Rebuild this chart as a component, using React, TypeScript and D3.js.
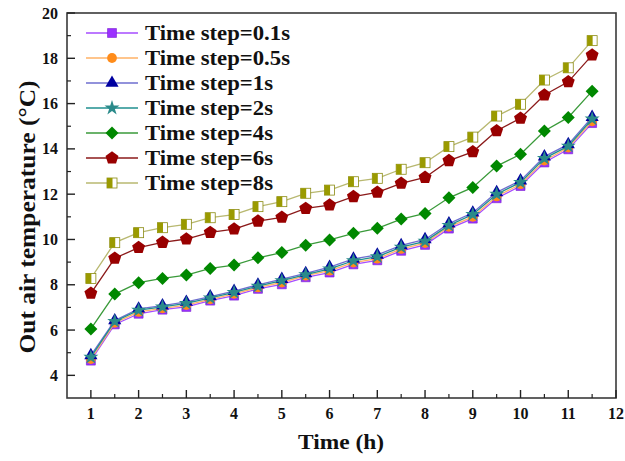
import React from "react";
import * as d3 from "d3";

const hours = [1, 1.5, 2, 2.5, 3, 3.5, 4, 4.5, 5, 5.5, 6, 6.5, 7, 7.5, 8, 8.5, 9, 9.5, 10, 10.5, 11, 11.5];
const seriesNames = ["Time step=0.1s", "Time step=0.5s", "Time step=1s", "Time step=2s", "Time step=4s", "Time step=6s", "Time step=8s"];
const step01 = [4.65, 6.25, 6.72, 6.9, 7.02, 7.3, 7.52, 7.82, 8.02, 8.33, 8.54, 8.9, 9.08, 9.5, 9.76, 10.48, 10.92, 11.82, 12.36, 13.4, 13.98, 15.14];
const step05 = [4.72, 6.32, 6.8, 6.96, 7.1, 7.36, 7.6, 7.88, 8.1, 8.4, 8.62, 8.98, 9.15, 9.58, 9.84, 10.56, 11.0, 11.9, 12.44, 13.48, 14.06, 15.22];
const step1 = [4.88, 6.42, 6.94, 7.08, 7.24, 7.48, 7.72, 8.0, 8.25, 8.5, 8.78, 9.14, 9.32, 9.74, 10.0, 10.7, 11.18, 12.08, 12.6, 13.66, 14.2, 15.4];
const step2 = [4.8, 6.38, 6.88, 7.02, 7.18, 7.42, 7.66, 7.94, 8.18, 8.45, 8.7, 9.06, 9.24, 9.66, 9.92, 10.62, 11.1, 12.0, 12.52, 13.58, 14.12, 15.32];
const step4 = [6.05, 7.59, 8.09, 8.28, 8.43, 8.72, 8.87, 9.19, 9.42, 9.75, 9.98, 10.27, 10.49, 10.9, 11.15, 11.84, 12.3, 13.24, 13.76, 14.79, 15.39, 16.55];
const step6 = [7.62, 9.17, 9.64, 9.87, 10.02, 10.31, 10.46, 10.81, 10.98, 11.37, 11.52, 11.89, 12.08, 12.48, 12.74, 13.48, 13.87, 14.8, 15.35, 16.38, 16.96, 18.14];
const step8 = [8.28, 9.86, 10.3, 10.52, 10.67, 10.96, 11.1, 11.45, 11.67, 12.04, 12.18, 12.55, 12.7, 13.1, 13.39, 14.1, 14.52, 15.45, 15.97, 17.04, 17.58, 18.78];
const xTicks = [1, 2, 3, 4, 5, 6, 7, 8, 9, 10, 11, 12];
const yTicks = [4, 6, 8, 10, 12, 14, 16, 18, 20];

const allSeries = [step01, step05, step1, step2, step4, step6, step8];
const lineColors = ["#a64dff", "#ffb266", "#6e6ecf", "#1f8f8f", "#3a9a3a", "#8b1a1a", "#b8b870"];
const markerColors = ["#9b30ff", "#ff8c1a", "#0000a0", "#2a8a8a", "#008800", "#990000", "#9a9a00"];
const shapes = ["square", "circle", "triangle", "star", "diamond", "pentagon", "halfsquare"];

const W = 625, H = 461;
const L = 67, R = 616, T = 13, B = 398;
const FONT = "'Liberation Serif', 'Times New Roman', serif";

function Marker({ shape, x, y, color }: { shape: string; x: number; y: number; color: string }) {
  if (shape === "square") {
    return <path d={d3.symbol(d3.symbolSquare, 80)()!} transform={`translate(${x},${y})`} fill={color} stroke="#7a1fd0" strokeWidth={0.6} />;
  }
  if (shape === "circle") {
    return <path d={d3.symbol(d3.symbolCircle, 75)()!} transform={`translate(${x},${y})`} fill={color} />;
  }
  if (shape === "triangle") {
    return <path d={d3.symbol(d3.symbolTriangle, 75)()!} transform={`translate(${x},${y})`} fill={color} />;
  }
  if (shape === "star") {
    return <path d={d3.symbol(d3.symbolStar, 70)()!} transform={`translate(${x},${y})`} fill={color} />;
  }
  if (shape === "diamond") {
    const s = 6.5;
    return <path d={`M0,${-s}L${s},0L0,${s}L${-s},0Z`} transform={`translate(${x},${y})`} fill={color} />;
  }
  if (shape === "pentagon") {
    const r = 6.8;
    const pts = d3.range(5).map((i) => {
      const a = -Math.PI / 2 + (i * 2 * Math.PI) / 5;
      return [r * Math.cos(a), r * Math.sin(a)];
    });
    return <path d={"M" + pts.map((p) => p.join(",")).join("L") + "Z"} transform={`translate(${x},${y})`} fill={color} />;
  }
  // half filled square
  const s = 5;
  return (
    <g transform={`translate(${x},${y})`}>
      <rect x={-s} y={-s} width={2 * s} height={2 * s} fill="#ffffff" stroke="#8a8a10" strokeWidth={0.8} />
      <rect x={-s} y={-s} width={s * 1.1} height={2 * s} fill={color} />
    </g>
  );
}

export default function App() {
  const x = d3.scaleLinear().domain([0.5, 12]).range([L, R]);
  const y = d3.scaleLinear().domain([3, 20]).range([B, T]);
  const line = d3.line<number>().x((_, i) => x(hours[i])).y((d) => y(d));
  const xMinor = d3.range(1.5, 12, 1);
  const yMinor = d3.range(5, 20, 2);
  const legendY = (i: number) => 33 + i * 25;

  return (
    <svg width={W} height={H} style={{ position: "absolute", left: 0, top: 0, background: "#fff" }}>
      <rect x={0} y={0} width={W} height={H} fill="#fff" />
      {/* series */}
      {allSeries.map((s, si) => (
        <g key={si}>
          <path d={line(s)!} fill="none" stroke={lineColors[si]} strokeWidth={1.3} />
          {s.map((v, i) => (
            <Marker key={i} shape={shapes[si]} x={x(hours[i])} y={y(v)} color={markerColors[si]} />
          ))}
        </g>
      ))}
      {/* frame */}
      <rect x={L} y={T} width={R - L} height={B - T} fill="none" stroke="#3a3a3a" strokeWidth={1.6} />
      {/* x ticks */}
      {xTicks.map((t) => (
        <g key={t}>
          <line x1={x(t)} x2={x(t)} y1={B} y2={B - 8} stroke="#222" strokeWidth={1.4} />
          <text x={x(t)} y={419} textAnchor="middle" fontFamily={FONT} fontWeight="bold" fontSize={16} fill="#111">{t}</text>
        </g>
      ))}
      {xMinor.map((t) => (
        <line key={t} x1={x(t)} x2={x(t)} y1={B} y2={B - 4} stroke="#222" strokeWidth={1.2} />
      ))}
      {/* y ticks */}
      {yTicks.map((t) => (
        <g key={t}>
          <line x1={L} x2={L + 8} y1={y(t)} y2={y(t)} stroke="#222" strokeWidth={1.4} />
          <text x={58} y={y(t) + 5.5} textAnchor="end" fontFamily={FONT} fontWeight="bold" fontSize={16} fill="#111">{t}</text>
        </g>
      ))}
      {yMinor.map((t) => (
        <line key={t} x1={L} x2={L + 4} y1={y(t)} y2={y(t)} stroke="#222" strokeWidth={1.2} />
      ))}
      {/* axis titles */}
      <text x={341} y={449} textAnchor="middle" fontFamily={FONT} fontWeight="bold" fontSize={22} fill="#111" textLength={86} lengthAdjust="spacingAndGlyphs">Time (h)</text>
      <text transform="translate(35,217) rotate(-90)" textAnchor="middle" fontFamily={FONT} fontWeight="bold" fontSize={24} fill="#111" textLength={273} lengthAdjust="spacingAndGlyphs">Out air temperature (°C)</text>
      {/* legend */}
      {seriesNames.map((n, i) => (
        <g key={n}>
          <line x1={86} x2={138} y1={legendY(i)} y2={legendY(i)} stroke={lineColors[i]} strokeWidth={1.3} />
          <Marker shape={shapes[i]} x={112} y={legendY(i)} color={markerColors[i]} />
          <text x={145} y={legendY(i) + 7} fontFamily={FONT} fontWeight="bold" fontSize={21} fill="#111" textLength={i < 2 ? 145 : 128} lengthAdjust="spacingAndGlyphs">{n}</text>
        </g>
      ))}
    </svg>
  );
}
